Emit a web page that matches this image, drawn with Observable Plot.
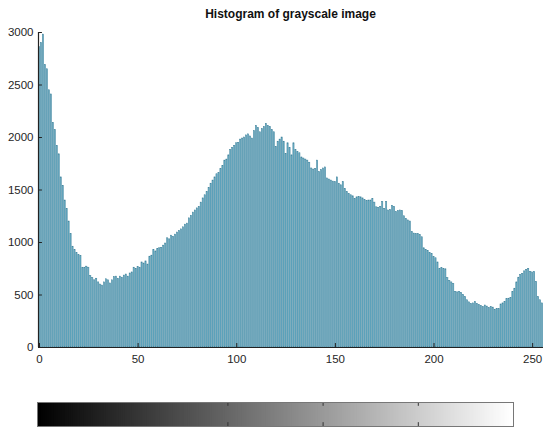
<!DOCTYPE html>
<html>
<head>
<meta charset="utf-8">
<script src="https://cdn.jsdelivr.net/npm/d3@7"></script>
<script src="https://cdn.jsdelivr.net/npm/@observablehq/plot@0.6"></script>
<style>
  html, body { margin: 0; padding: 0; background: #fff; }
  body { width: 550px; height: 435px; position: relative; overflow: hidden; font-family: "Liberation Sans", Arial, sans-serif; }
  #title { position: absolute; top: 7px; left: 0; width: 581px; text-align: center; font-weight: bold; font-size: 12px; color: #111; }
  #main { position: absolute; top: 0; left: 0; }
  #cbar { position: absolute; top: 375px; left: 0; }
</style>
</head>
<body>
<div id="title">Histogram of grayscale image</div>
<div id="main"></div>
<div id="cbar"></div>
<script>
// Histogram counts for gray levels 0..255
const counts = [
  2860, 2900, 2980, 2690, 2650, 2450, 2410, 2140, 2070, 1920,
  1840, 1620, 1540, 1400, 1320, 1200, 1080, 960, 930, 900,
  880, 870, 760, 760, 770, 760, 680, 660, 640, 655,
  620, 600, 590, 620, 650, 640, 610, 640, 670, 675,
  655, 675, 665, 685, 695, 675, 705, 715, 760, 750,
  765, 760, 810, 800, 820, 790, 865, 875, 930, 915,
  940, 945, 950, 970, 990, 1040, 1030, 1065, 1055, 1075,
  1095, 1110, 1125, 1145, 1170, 1180, 1230, 1255, 1285, 1305,
  1325, 1340, 1380, 1420, 1450, 1480, 1520, 1560, 1590, 1620,
  1650, 1660, 1700, 1730, 1780, 1790, 1830, 1880, 1900, 1920,
  1945, 1950, 1980, 1990, 2000, 2020, 2030, 2010, 1990, 2060,
  2110, 2090, 2050, 2080, 2100, 2130, 2110, 2100, 2070, 2050,
  1910, 1960, 1980, 2000, 1960, 1845, 1945, 1900, 1830, 1945,
  1880, 1860, 1850, 1810, 1800, 1790, 1780, 1760, 1705, 1695,
  1700, 1780, 1670, 1690, 1705, 1715, 1610, 1600, 1590, 1580,
  1575, 1620, 1560, 1545, 1575, 1510, 1480, 1460, 1450, 1440,
  1415, 1430, 1435, 1430, 1420, 1405, 1395, 1400, 1400, 1415,
  1380, 1335, 1330, 1340, 1385, 1320, 1385, 1305, 1310, 1350,
  1340, 1290, 1300, 1305, 1300, 1250, 1225, 1210, 1200, 1100,
  1085, 1080, 1080, 1070, 1050, 945, 930, 920, 900, 890,
  860, 850, 810, 750, 755, 750, 745, 660, 635, 620,
  605, 530, 525, 527, 520, 500, 480, 450, 430, 415,
  420, 432, 415, 405, 395, 385, 400, 390, 375, 384,
  380, 360, 368, 365, 410, 420, 435, 460, 465, 470,
  530, 560, 620, 665, 690, 702, 725, 740, 750, 720,
  715, 720, 625, 480, 450, 420
];
const xTicks = [0, 50, 100, 150, 200, 250];
const yTicks = [0, 500, 1000, 1500, 2000, 2500, 3000];
const cbarTicks = [0.2, 0.4, 0.6, 0.8];
const title = "Histogram of grayscale image";

const bins = counts.map((c, i) => ({level: i, count: c}));
const axisColor = "#222";

const main = Plot.plot({
  width: 550,
  height: 375,
  marginTop: 32,
  marginBottom: 28,
  marginLeft: 38,
  marginRight: 7,
  style: {fontFamily: '"Liberation Sans", Arial, sans-serif', fontSize: "11.5px", color: "#262626", background: "transparent"},
  x: {domain: [-0.5, 255.5]},
  y: {domain: [0, 3000]},
  marks: [
    Plot.rectY(bins, {
      x1: d => d.level - 0.3,
      x2: d => d.level + 0.3,
      y1: 0,
      y2: "count",
      fill: "#6cb1c9",
      stroke: "#3a7e97",
      strokeWidth: 0.5
    }),
    Plot.ruleY(yTicks, {x1: -0.5, x2: 1.5, stroke: axisColor}),
    Plot.ruleX(xTicks, {y1: 0, y2: 38, stroke: axisColor}),
    Plot.ruleX([-0.5], {y1: 0, y2: 3000, stroke: axisColor, strokeWidth: 1.2}),
    Plot.ruleY([0], {x1: -0.5, x2: 255.5, stroke: axisColor, strokeWidth: 1.2}),
    Plot.axisY({ticks: yTicks, tickSize: 0, tickPadding: 5, label: null, tickFormat: d => String(d)}),
    Plot.axisX({ticks: xTicks, tickSize: 0, tickPadding: 7, label: null, tickFormat: d => String(d)})
  ]
});
document.getElementById("main").appendChild(main);

// Colorbar (black -> white)
const levels = counts.map((c, i) => i);
const cbar = Plot.plot({
  width: 550,
  height: 60,
  marginTop: 27,
  marginBottom: 9,
  marginLeft: 37,
  marginRight: 37,
  style: {background: "transparent"},
  x: {domain: [0, 1], axis: null},
  y: {domain: [0, 1], axis: null},
  marks: [
    Plot.rect(levels, {
      x1: d => d / 256,
      x2: d => Math.min(1, (d + 1.6) / 256),
      y1: 0,
      y2: 1,
      fill: d => `rgb(${d},${d},${d})`
    }),
    Plot.ruleX(cbarTicks, {y1: 0.84, y2: 1, stroke: "#333", strokeWidth: 1}),
    Plot.ruleX(cbarTicks, {y1: 0, y2: 0.16, stroke: "#333", strokeWidth: 1}),
    Plot.frame({stroke: "#777", strokeWidth: 1})
  ]
});
document.getElementById("cbar").appendChild(cbar);
</script>
</body>
</html>
